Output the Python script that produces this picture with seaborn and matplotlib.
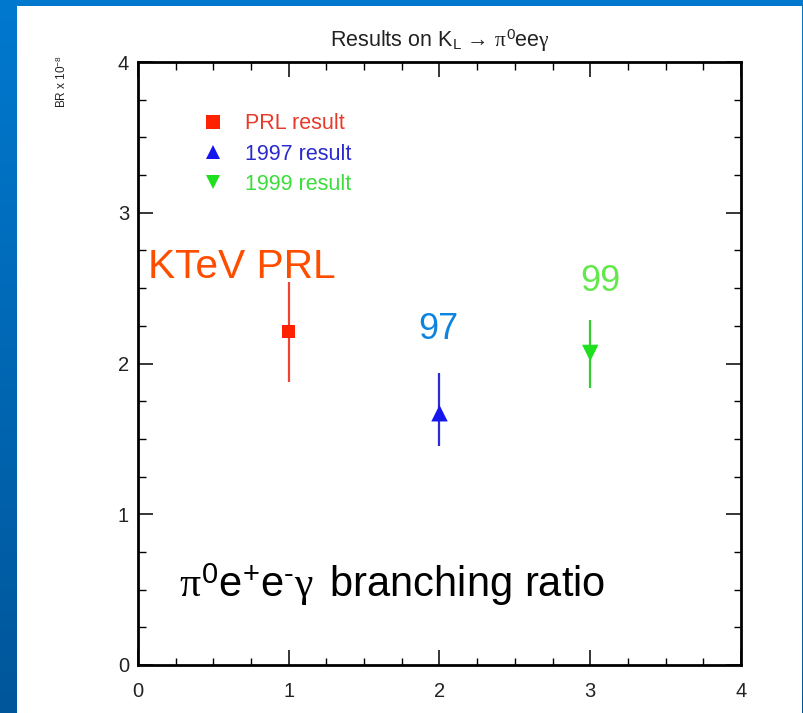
import numpy as np
import pandas as pd
import matplotlib
matplotlib.use("Agg")
import matplotlib.pyplot as plt
from matplotlib.patches import Rectangle
from matplotlib.lines import Line2D
from matplotlib.colors import LinearSegmentedColormap
import seaborn as sns

# Measurements of BR(K_L -> pi0 e e gamma), in units of 1e-8
categories = ["PRL result", "1997 result", "1999 result"]
x_pos = [1, 2, 3]
br = [2.21, 1.67, 2.07]
err_lo = [0.33, 0.22, 0.23]
err_hi = [0.33, 0.27, 0.22]
short_labels = ["KTeV PRL", "97", "99"]

x_ticks = [0, 1, 2, 3, 4]
y_ticks = [0, 1, 2, 3, 4]

marker_colors = ["#FF2200", "#1515EE", "#1EE01E"]
bar_colors = ["#EE4433", "#2B2BD8", "#33CC33"]
legend_text_colors = ["#E83A2A", "#2A2ACC", "#3ADD3A"]
note_colors = ["#FF4D00", "#0D84E0", "#62E84C"]
markers = ["s", "^", "v"]
marker_sizes = [90, 140, 140]

sns.set_theme(style="ticks")
plt.rcParams["font.family"] = ["Liberation Sans", "DejaVu Sans"]
plt.rcParams["mathtext.fontset"] = "custom"
plt.rcParams["mathtext.rm"] = "Liberation Sans"
plt.rcParams["mathtext.it"] = "Liberation Serif"
plt.rcParams["mathtext.bf"] = "Liberation Sans:bold"

df = pd.DataFrame({"x": x_pos, "br": br, "result": categories})

W, H = 804, 713
fig = plt.figure(figsize=(W / 100, H / 100), dpi=100)

# blue slide background with a vertical gradient and a white panel
bg = fig.add_axes([0, 0, 1, 1], zorder=-2)
grad = np.linspace(0, 1, 256).reshape(-1, 1)
cmap = LinearSegmentedColormap.from_list("slide", ["#0079CF", "#00569A"])
bg.imshow(grad, aspect="auto", cmap=cmap, extent=[0, 1, 0, 1], origin="upper")
bg.set_axis_off()
fig.patches.append(Rectangle((17 / W, 0), (802 - 17) / W, (H - 6) / H,
                             transform=fig.transFigure, facecolor="white",
                             edgecolor="none", zorder=-1))

ax = fig.add_axes([138 / W, (H - 665) / H, (741 - 138) / W, (665 - 62) / H])
ax.set_facecolor("white")

# error bars
for xi, yi, lo, hi, c in zip(x_pos, br, err_lo, err_hi, bar_colors):
    ax.errorbar([xi], [yi], yerr=[[lo], [hi]], fmt="none", ecolor=c,
                elinewidth=1.6, capsize=0, zorder=2)

sns.scatterplot(data=df, x="x", y="br", hue="result", style="result",
                size="result",
                sizes=dict(zip(categories, marker_sizes)),
                palette=dict(zip(categories, marker_colors)),
                markers=dict(zip(categories, markers)),
                edgecolor="none", legend=False, ax=ax, zorder=3)

# legend
handles = [Line2D([], [], ls="none", marker=m, color=c, markersize=10.5,
                  markeredgewidth=0)
           for m, c in zip(markers, marker_colors)]
leg = ax.legend(handles, categories, loc="upper left",
                bbox_to_anchor=(0.078, 0.947), frameon=False, fontsize=15.5,
                handlelength=0.8, handletextpad=1.09, labelspacing=0.43,
                borderpad=0.4)
for t, c in zip(leg.get_texts(), legend_text_colors):
    t.set_color(c)

# annotations
ax.text(0.066, 2.57, short_labels[0], color=note_colors[0], fontsize=29.3,
        ha="left", va="baseline")
ax.text(1.99, 2.16, short_labels[1], color=note_colors[1], fontsize=26,
        ha="center", va="baseline")
ax.text(3.07, 2.48, short_labels[2], color=note_colors[2], fontsize=26,
        ha="center", va="baseline")
ax.text(0.27, 0.45,
        r"$\pi^{0}$e$^{+}$e$^{\text{-}}$$\gamma\,$ branching ratio",
        color="black", fontsize=30, ha="left", va="baseline")

ax.set_xlim(0, 4)
ax.set_ylim(0, 4)
ax.set_xticks(x_ticks)
ax.set_yticks(y_ticks)
ax.set_xticks(np.arange(0, 4.01, 0.25), minor=True)
ax.set_yticks(np.arange(0, 4.01, 0.25), minor=True)
ax.set_xlabel("")
ax.set_ylabel("")

ax.tick_params(which="both", direction="in", top=True, right=True,
               colors="black", labelcolor="#222222")
ax.tick_params(which="major", length=10.8, width=1.1, labelsize=14.5)
ax.tick_params(which="minor", length=5.4, width=1.0)
ax.tick_params(axis="x", which="major", pad=12)
ax.tick_params(axis="y", which="major", pad=6.5)
for sp in ax.spines.values():
    sp.set_linewidth(2.0)
    sp.set_color("black")

ax.set_title(r"Results on K$_\mathrm{L}$ → $\pi^{0}$ee$\gamma$",
             fontsize=15.5, pad=11, color="#222222")

fig.text(62 / W, 1 - 82 / H, r"BR x 10$^{-8}$", rotation=90, fontsize=8.5,
         ha="center", va="center", color="#222222")

fig.savefig("out.png", dpi=100)
